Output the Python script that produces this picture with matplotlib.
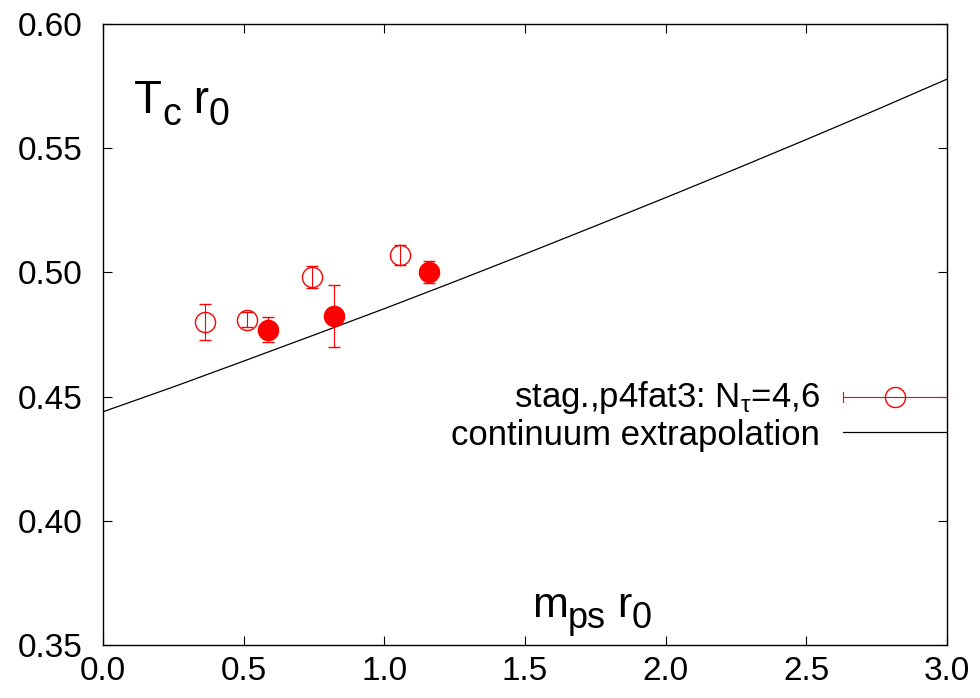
import numpy as np
import matplotlib.pyplot as plt

plt.rcParams['font.family'] = ['Liberation Sans', 'DejaVu Sans']
plt.rcParams['mathtext.fontset'] = 'custom'
plt.rcParams['mathtext.rm'] = 'Liberation Sans'
plt.rcParams['mathtext.it'] = 'Liberation Sans'

# staggered p4fat3 data, N_tau = 4 (open) and N_tau = 6 (filled)
mps_nt4 = [0.363, 0.512, 0.743, 1.056]
tc_nt4 = [0.480, 0.481, 0.498, 0.507]
err_nt4 = [0.0072, 0.003, 0.0044, 0.004]

mps_nt6 = [0.587, 0.821, 1.159]
tc_nt6 = [0.477, 0.4824, 0.5002]
err_nt6 = [0.005, 0.0124, 0.0045]

# continuum extrapolation curve
curve_x = [0.0, 0.25, 0.5, 0.75, 1.0, 1.25, 1.5, 1.75, 2.0, 2.25, 2.5, 2.75, 3.0]
curve_y = [0.4439, 0.4539, 0.4643, 0.4748, 0.4854, 0.4963, 0.5074, 0.5187, 0.5301,
           0.5417, 0.5535, 0.5655, 0.5778]

xticks = [0.0, 0.5, 1.0, 1.5, 2.0, 2.5, 3.0]
yticks = [0.35, 0.40, 0.45, 0.50, 0.55, 0.60]


def label_with_subs(ax, x, y, parts):
    """Write a label piece by piece: parts = (text, fontsize, offset in points)."""
    prev = None
    for s, size, dy in parts:
        if prev is None:
            prev = ax.annotate(s, xy=(x, y), xycoords='axes fraction',
                               xytext=(0, dy), textcoords='offset points',
                               fontsize=size, va='baseline', ha='left')
        else:
            prev = ax.annotate(s, xy=(1, y), xycoords=(prev, 'axes fraction'),
                               xytext=(0, dy), textcoords='offset points',
                               fontsize=size, va='baseline', ha='left')
    return prev


fig = plt.figure(figsize=(9.8, 6.98), dpi=100)
ax = fig.add_axes([0.1051, 0.0759, 0.8612, 0.8897])

ax.plot(curve_x, curve_y, color='black', lw=0.9)

ax.errorbar(mps_nt4, tc_nt4, yerr=err_nt4, fmt='o', ms=14.5, mfc='none', mec='red',
            mew=1.0, ecolor='red', elinewidth=0.8, capsize=4, capthick=0.8)
ax.errorbar(mps_nt6, tc_nt6, yerr=err_nt6, fmt='o', ms=14.5, mfc='red', mec='red',
            mew=1.0, ecolor='red', elinewidth=0.8, capsize=4, capthick=0.8)

ax.set_xlim(0, 3)
ax.set_ylim(0.35, 0.60)
ax.set_xticks(xticks)
ax.set_yticks(yticks)
ax.set_xticklabels([f'{v:.1f}' for v in xticks])
ax.set_yticklabels([f'{v:.2f}' for v in yticks])
ax.tick_params(axis='both', direction='in', length=6.5, width=0.8, labelsize=24,
               top=True, right=True)
ax.tick_params(axis='y', pad=15)
ax.tick_params(axis='x', pad=8)
for s in ax.spines.values():
    s.set_linewidth(1.0)

label_with_subs(ax, 0.037, 0.857, [('T', 33, 0), ('c', 27, -9), (' r', 33, 0), ('0', 27, -9)])
label_with_subs(ax, 0.508, 0.045, [('m', 31, 0), ('ps', 26, -8), (' r', 31, 0), ('0', 26, -8)])

# key
ax.text(0.8495, 0.399, r'stag.,p4fat3: N$_\tau$=4,6', transform=ax.transAxes,
        fontsize=25, va='center', ha='right')
ax.text(0.8495, 0.337, 'continuum extrapolation', transform=ax.transAxes,
        fontsize=25, va='center', ha='right')
ax.plot([0.877, 0.999], [0.399, 0.399], transform=ax.transAxes, color='red', lw=0.8,
        clip_on=False)
ax.plot([0.877, 0.877], [0.391, 0.407], transform=ax.transAxes, color='red', lw=0.8,
        clip_on=False)
ax.plot([0.938], [0.399], 'o', transform=ax.transAxes, ms=14.5, mfc='none', mec='red',
        mew=1.0, clip_on=False)
ax.plot([0.877, 0.999], [0.343, 0.343], transform=ax.transAxes, color='black', lw=0.9,
        clip_on=False)

fig.savefig('out.png', dpi=100)
